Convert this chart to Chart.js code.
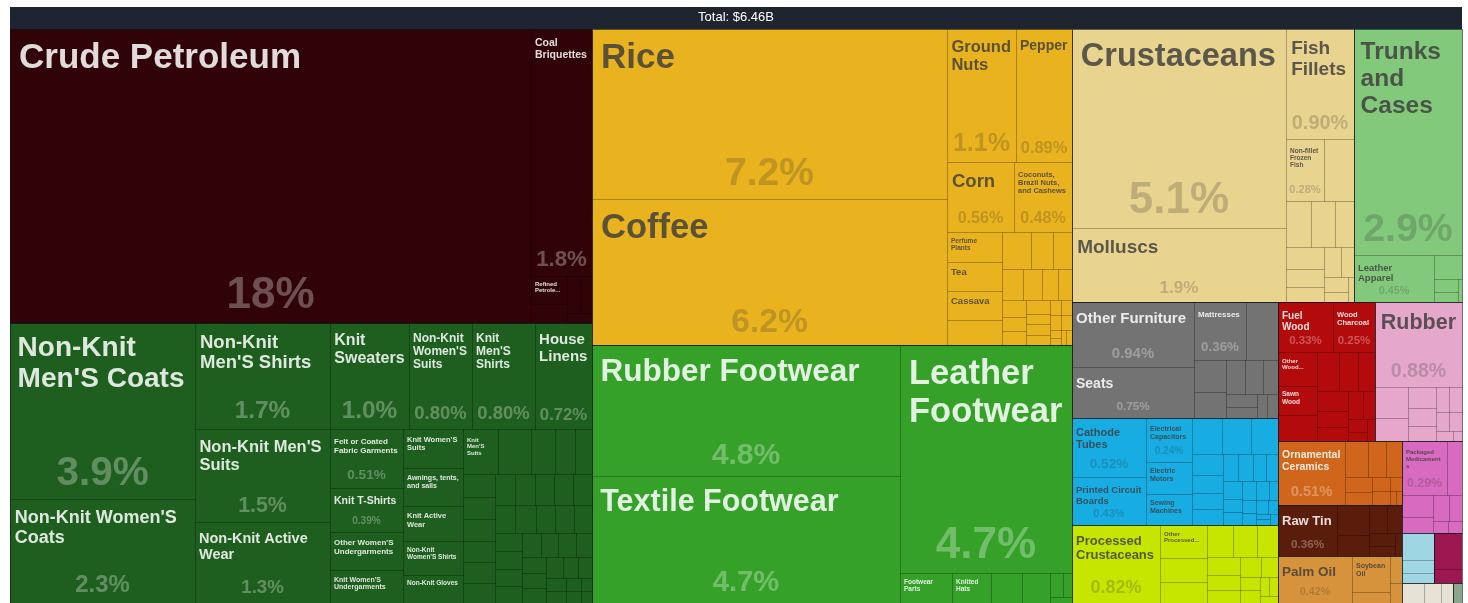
<!DOCTYPE html>
<html>
<head>
<meta charset="utf-8">
<title>Export treemap</title>
<script src="https://cdn.jsdelivr.net/npm/chart.js@4.4.1/dist/chart.umd.min.js"></script>
<style>
  html, body { margin: 0; padding: 0; background: #ffffff; }
  #wrap { width: 1468px; height: 603px; }
</style>
</head>
<body>
<div id="wrap"><canvas id="treemap"></canvas></div>
<script>
// Share of total exports (%) per product, one pair of arrays per HS section
const mineralProducts = ['Crude Petroleum', 'Coal Briquettes', 'Refined Petroleum', 'Petroleum Gas', 'Salt', 'Tin Ore', 'Cement'];
const mineralShares = [18.3, 1.8, 0.12, 0.08, 0.06, 0.05, 0.03];

const textileProducts = ["Non-Knit Men'S Coats", "Non-Knit Women'S Coats", "Non-Knit Men'S Shirts", "Non-Knit Men'S Suits",
  "Non-Knit Active Wear", "Knit Sweaters", "Non-Knit Women'S Suits", "Knit Men'S Shirts", "House Linens",
  "Felt or Coated Fabric Garments", "Knit T-Shirts", "Other Women'S Undergarments", "Knit Women'S Undergarments",
  "Knit Women'S Suits", "Awnings, tents, and sails", "Knit Active Wear", "Non-Knit Women'S Shirts", "Non-Knit Gloves",
  "Knit Men'S Suits", "Non-Knit Babies' Garments", "Knit Women'S Shirts", "Knit Babies' Garments",
  "Non-Knit Women'S Undergarments", "Knit Socks and Hosiery", "Other Knit Garments", "Non-Knit Men'S Undergarments",
  "Other Cloth Articles", "Knit Gloves", "Knit Men'S Undergarments", "Knit Women'S Coats", "Ties", "Used Clothing",
  "Handkerchiefs", "Shawls and Scarves", "Synthetic Filament Yarn", "Cotton Yarn", "Woven Fabrics", "Blankets",
  "Sacks and Bags", "Labels", "Textile Wall Coverings", "Twine and Rope", "Curtains", "Wadding", "Raw Silk",
  "Jute Yarn", "Embroidery", "Lace", "Heavy Pure Woven Cotton", "Knitted Fabric", "Raw Cotton", "Knit Men'S Coats",
  "Tulles and Net Fabric", "Synthetic Staple Fibers", "Light Pure Woven Cotton", "Other Synthetic Fabrics", "Carpets",
  "Cotton Sewing Thread", "Velvet Fabric"];
const textileShares = [3.9, 2.3, 1.7, 1.5, 1.3, 1.0, 0.8, 0.8, 0.72, 0.51, 0.39, 0.33, 0.285, 0.28, 0.27, 0.25, 0.24, 0.2,
  0.19, 0.18, 0.125, 0.11, 0.09, 0.088, 0.086, 0.084, 0.082, 0.08, 0.078, 0.076, 0.074, 0.072, 0.07, 0.07, 0.068,
  0.066, 0.064, 0.062, 0.06, 0.06, 0.058, 0.056, 0.055, 0.054, 0.052, 0.05, 0.048, 0.046, 0.044, 0.042, 0.04, 0.037,
  0.034, 0.031, 0.028, 0.025, 0.022, 0.018, 0.015];

const vegetableProducts = ['Rice', 'Coffee', 'Ground Nuts', 'Pepper', 'Corn', 'Coconuts, Brazil Nuts, and Cashews',
  'Perfume Plants', 'Tea', 'Cassava', 'Vegetable Saps', 'Cinnamon', 'Cloves', 'Soybeans', 'Bananas', 'Tropical Fruits',
  'Onions', 'Dried Legumes', 'Cocoa Beans', 'Other Nuts', 'Ginger', 'Vanilla', 'Sesame Seeds', 'Wheat Flours', 'Citrus',
  'Other Vegetables', 'Malt', 'Sorghum', 'Hops', 'Live Plants', 'Buckwheat', 'Mate', 'Lac'];
const vegetableShares = [7.2, 6.2, 1.1, 0.89, 0.56, 0.48, 0.2, 0.19, 0.19, 0.17, 0.13, 0.093, 0.084, 0.08, 0.07,
  0.06, 0.05, 0.05, 0.04, 0.04, 0.04, 0.03, 0.03, 0.03, 0.02, 0.02, 0.02, 0.02, 0.01, 0.01, 0.01, 0.01];

const footwearProducts = ['Rubber Footwear', 'Textile Footwear', 'Leather Footwear', 'Footwear Parts', 'Knitted Hats',
  'Other Footwear', 'Umbrellas', 'Other Headwear', 'Walking Sticks', 'Artificial Flowers'];
const footwearShares = [4.8, 4.68, 4.66, 0.19, 0.14, 0.115, 0.10, 0.04, 0.025, 0.015];

const animalProducts = ['Crustaceans', 'Molluscs', 'Fish Fillets', 'Non-fillet Frozen Fish', 'Dried Fish', 'Pig Meat',
  'Poultry Meat', 'Live Fish', 'Non-fillet Fresh Fish', 'Bird Feathers', 'Honey', 'Eggs', 'Animal Organs',
  'Bones and Horns', 'Milk', 'Live Pigs'];
const animalShares = [5.1, 1.9, 0.9, 0.28, 0.22, 0.14, 0.13, 0.11, 0.10, 0.08, 0.07, 0.06, 0.05, 0.04, 0.03, 0.02];

const hideProducts = ['Trunks and Cases', 'Leather Apparel', 'Raw Hides', 'Saddlery', 'Other Leather Articles', 'Furskin Apparel'];
const hideShares = [2.9, 0.45, 0.08, 0.04, 0.03, 0.01];

const miscProducts = ['Other Furniture', 'Seats', 'Mattresses', 'Brooms', 'Pens', 'Other Toys', 'Buttons', 'Combs',
  'Wheeled Toys', 'Prefabricated Buildings', 'Sports Equipment', 'Lighting Fixtures', 'Zippers'];
const miscShares = [0.94, 0.75, 0.36, 0.22, 0.12, 0.10, 0.08, 0.07, 0.06, 0.05, 0.04, 0.03, 0.03];

const machineProducts = ['Cathode Tubes', 'Printed Circuit Boards', 'Electrical Capacitors', 'Electric Motors',
  'Sewing Machines', 'Insulated Wire', 'Computers', 'Integrated Circuits', 'Electrical Transformers',
  'Electric Batteries', 'Telephones', 'Semiconductor Devices', 'Broadcasting Equipment', 'Video Displays',
  'Computer Parts', 'Air Pumps', 'Electric Heaters', 'Valves', 'Electrical Ignitions', 'Low-voltage Protection Equipment',
  'Centrifuges', 'Refrigerators', 'Electric Filament', 'Liquid Pumps', 'Ball Bearings', 'Microphones', 'Engine Parts',
  'Office Machine Parts', 'Textile Machinery'];
const machineShares = [0.52, 0.43, 0.24, 0.17, 0.17, 0.13, 0.12, 0.115, 0.08, 0.07, 0.06, 0.06, 0.05, 0.05, 0.04,
  0.04, 0.04, 0.03, 0.03, 0.03, 0.03, 0.02, 0.02, 0.02, 0.02, 0.015, 0.01, 0.01, 0.01];

const foodProducts = ['Processed Crustaceans', 'Other Processed Fruits and Nuts', 'Pasta', 'Processed Fish',
  'Sugar Confectionery', 'Animal Food', 'Baked Goods', 'Coffee and Tea Extracts', 'Sauces and Seasonings',
  'Rolled Tobacco', 'Processed Vegetables', 'Fruit Juice', 'Soups and Broths', 'Vinegar', 'Beer', 'Hard Liquor',
  'Other Edible Preparations'];
const foodShares = [0.82, 0.19, 0.135, 0.12, 0.10, 0.09, 0.08, 0.07, 0.06, 0.05, 0.05, 0.04, 0.03, 0.03, 0.02, 0.02, 0.015];

const woodProducts = ['Fuel Wood', 'Wood Charcoal', 'Other Wood Articles', 'Sawn Wood', 'Plaiting Products',
  'Wood Carpentry', 'Plywood', 'Wood Crates', 'Rough Wood', 'Veneer Sheets', 'Wood Frames', 'Basketwork',
  'Wood Kitchenware', 'Wood Fiberboard', 'Wood Ornaments', 'Cork'];
const woodShares = [0.33, 0.25, 0.16, 0.14, 0.12, 0.10, 0.09, 0.08, 0.07, 0.06, 0.05, 0.05, 0.04, 0.03, 0.02, 0.02];

const plasticProducts = ['Rubber', 'Other Plastic Sheetings', 'Plastic Lids', 'Plastic Housewares', 'Rubber Tires',
  'Plastic Pipes', 'Rubber Belts', 'Raw Plastic Sheeting', 'Rubber Apparel', 'Other Rubber Products',
  'Plastic Floor Coverings', 'Ethylene Polymers'];
const plasticShares = [0.88, 0.12, 0.09, 0.07, 0.06, 0.05, 0.04, 0.04, 0.03, 0.03, 0.02, 0.01];

const stoneProducts = ['Ornamental Ceramics', 'Glass Bottles', 'Glass Bricks', 'Building Stone', 'Ceramic Bricks',
  'Glass Fibers', 'Gypsum', 'Cement Articles', 'Abrasive Powder', 'Mica', 'Quicklime'];
const stoneShares = [0.51, 0.10, 0.08, 0.07, 0.05, 0.04, 0.03, 0.03, 0.02, 0.01, 0.01];

const metalProducts = ['Raw Tin', 'Scrap Copper', 'Iron Structures', 'Aluminium Plating', 'Metal Stoppers',
  'Scrap Iron', 'Screws and Bolts', 'Iron Wire'];
const metalShares = [0.36, 0.12, 0.08, 0.06, 0.05, 0.04, 0.03, 0.02];

const fatProducts = ['Palm Oil', 'Soybean Oil', 'Coconut Oil', 'Animal Fats', 'Other Vegetable Oils'];
const fatShares = [0.42, 0.16, 0.05, 0.04, 0.03];

const chemicalProducts = ['Packaged Medicaments', 'Animal or Vegetable Fertilizers', 'Soap', 'Perfumes',
  'Insecticides', 'Glues', 'Cleaning Products', 'Paints'];
const chemicalShares = [0.29, 0.10, 0.08, 0.06, 0.05, 0.04, 0.02, 0.02];

const instrumentProducts = ['Orthopedic Appliances', 'Watches', 'Medical Instruments'];
const instrumentShares = [0.10, 0.05, 0.04];
const preciousProducts = ['Jewellery', 'Pearls'];
const preciousShares = [0.12, 0.05];
const paperProducts = ['Printed Books', 'Paper Containers', 'Toilet Paper'];
const paperShares = [0.05, 0.04, 0.03];
const transportProducts = ['Bicycles'];
const transportShares = [0.02];

const groupNames = ['Mineral Products', 'Textiles', 'Vegetable Products', 'Footwear and Headwear', 'Animal Products',
  'Animal Hides', 'Miscellaneous', 'Machines', 'Foodstuffs', 'Wood Products', 'Plastics and Rubbers',
  'Stone and Glass', 'Metals', 'Animal and Vegetable Bi-Products', 'Chemical Products', 'Instruments',
  'Precious Metals', 'Paper Goods', 'Transportation'];
const groupProducts = [mineralProducts, textileProducts, vegetableProducts, footwearProducts, animalProducts,
  hideProducts, miscProducts, machineProducts, foodProducts, woodProducts, plasticProducts, stoneProducts,
  metalProducts, fatProducts, chemicalProducts, instrumentProducts, preciousProducts, paperProducts, transportProducts];
const groupShares = [mineralShares, textileShares, vegetableShares, footwearShares, animalShares, hideShares,
  miscShares, machineShares, foodShares, woodShares, plasticShares, stoneShares, metalShares, fatShares,
  chemicalShares, instrumentShares, preciousShares, paperShares, transportShares];

const groupColors = ['#300308', '#1e5e1e', '#e9b21f', '#35a129', '#e8d38f', '#83c97b', '#737373', '#17ade2',
  '#c6e600', '#b30b0b', '#e5a7ca', '#d0661b', '#5a1d0b', '#d7933c', '#d86bbf', '#9ed6e4', '#9c1750', '#e6e2d6', '#8ba68b'];

const titleText = 'Total: $6.46B';
const FONT = "'Liberation Sans', Arial, Helvetica, sans-serif";
const PHI = (1 + Math.sqrt(5)) / 2;

function sumOf(arr) {
    return arr.reduce((a, b) => a + b, 0);
}

function luma(hex) {
    const n = parseInt(hex.slice(1), 16);
    return 0.299 * (n >> 16) + 0.587 * ((n >> 8) & 255) + 0.114 * (n & 255);
}

function fontStr(size) {
    return 'bold ' + size + 'px ' + FONT;
}

// Build the two-level hierarchy, sorted the way d3 sorts it
function buildTree() {
    const groups = groupNames.map((name, gi) => {
        const children = groupProducts[gi].map((p, i) => ({ name: p, value: groupShares[gi][i] }));
        children.sort((a, b) => b.value - a.value);
        return { name: name, color: groupColors[gi], value: sumOf(groupShares[gi]), children: children };
    });
    groups.sort((a, b) => b.value - a.value);
    return groups;
}

// Squarified layout (same rules as d3.treemapSquarify with the golden ratio)
function squarify(nodes, total, x0, y0, x1, y1) {
    let i0 = 0, i1 = 0, value = total;
    const n = nodes.length;
    while (i0 < n) {
        const dx = x1 - x0, dy = y1 - y0;
        let sumValue;
        do sumValue = nodes[i1++].value; while (!sumValue && i1 < n);
        let minValue = sumValue, maxValue = sumValue;
        const alpha = Math.max(dy / dx, dx / dy) / (value * PHI);
        let beta = sumValue * sumValue * alpha;
        let minRatio = Math.max(maxValue / beta, beta / minValue);
        for (; i1 < n; ++i1) {
            const nodeValue = nodes[i1].value;
            sumValue += nodeValue;
            if (nodeValue < minValue) minValue = nodeValue;
            if (nodeValue > maxValue) maxValue = nodeValue;
            beta = sumValue * sumValue * alpha;
            const newRatio = Math.max(maxValue / beta, beta / minValue);
            if (newRatio > minRatio) { sumValue -= nodeValue; break; }
            minRatio = newRatio;
        }
        const row = nodes.slice(i0, i1);
        if (dx < dy) {
            const yb = value ? y0 + dy * sumValue / value : y1;
            let x = x0;
            row.forEach(nd => {
                const w = (x1 - x0) * nd.value / sumValue;
                nd.x0 = x; nd.x1 = x + w; nd.y0 = y0; nd.y1 = yb;
                x += w;
            });
            y0 = yb;
        } else {
            const xb = value ? x0 + dx * sumValue / value : x1;
            let y = y0;
            row.forEach(nd => {
                const h = (y1 - y0) * nd.value / sumValue;
                nd.x0 = x0; nd.x1 = xb; nd.y0 = y; nd.y1 = y + h;
                y += h;
            });
            x0 = xb;
        }
        value -= sumValue;
        i0 = i1;
    }
}

function wrapWords(ctx, words, maxW) {
    const lines = [];
    let line = '';
    for (const w of words) {
        if (ctx.measureText(w).width > maxW) return null;
        const test = line ? line + ' ' + w : w;
        if (ctx.measureText(test).width <= maxW) line = test;
        else { lines.push(line); line = w; }
    }
    if (line) lines.push(line);
    return lines;
}

function forceWrap(ctx, words, maxW) {
    const lines = [];
    let line = '';
    words.forEach(w => {
        while (ctx.measureText(w).width > maxW && w.length > 1) {
            let cut = w.length - 1;
            while (cut > 1 && ctx.measureText(w.slice(0, cut)).width > maxW) cut--;
            if (line) { lines.push(line); line = ''; }
            lines.push(w.slice(0, cut));
            w = w.slice(cut);
        }
        const test = line ? line + ' ' + w : w;
        if (ctx.measureText(test).width <= maxW) line = test;
        else { lines.push(line); line = w; }
    });
    if (line) lines.push(line);
    return lines;
}

function sidePad(size) {
    return Math.max(4, Math.min(9, size * 0.27));
}

function fitName(ctx, name, w, h) {
    const words = name.split(' ');
    const maxSize = Math.min(35, h * 0.215 + 3.5);
    const budget = h * 0.34 + 5;
    for (let size = Math.floor(maxSize * 2) / 2; size >= 6; size -= 0.5) {
        ctx.font = fontStr(size);
        const pad = sidePad(size);
        const lines = wrapWords(ctx, words, w - 2 * pad);
        if (lines && lines.length * size * 1.1 <= budget) return { size: size, lines: lines, pad: pad };
    }
    const size = 6;
    ctx.font = fontStr(size);
    const pad = sidePad(size);
    const maxW = w - 2 * pad;
    const maxLines = Math.floor(budget / (size * 1.1));
    if (maxLines < 1) return null;
    const lines = forceWrap(ctx, words, maxW);
    if (lines.length > maxLines) {
        lines.length = maxLines;
        let last = lines[maxLines - 1];
        while (last.length && ctx.measureText(last + '...').width > maxW) last = last.slice(0, -1);
        lines[maxLines - 1] = last.trimEnd() + '...';
    }
    return { size: size, lines: lines, pad: pad };
}

function drawLabels(ctx, r, name, pct, light) {
    ctx.save();
    ctx.beginPath();
    ctx.rect(r.l, r.t, r.w, r.h);
    ctx.clip();
    if (r.w >= 34 && r.h >= 28) {
        const lab = fitName(ctx, name, r.w, r.h);
        if (lab) {
            ctx.font = fontStr(lab.size);
            ctx.textAlign = 'left';
            ctx.textBaseline = 'top';
            ctx.fillStyle = light ? 'rgba(255,255,255,0.86)' : 'rgba(60,60,60,0.82)';
            const top = r.t + Math.min(8, r.h * 0.16) + lab.size * 0.12;
            lab.lines.forEach((line, i) => ctx.fillText(line, r.l + lab.pad, top + i * lab.size * 1.1));
        }
    }
    if (r.w >= 38 && r.h >= 44) {
        const txt = pct.toPrecision(2) + '%';
        ctx.font = fontStr(100);
        const em = ctx.measureText(txt).width / 100;
        const size = Math.min(44, r.h * 0.23, r.w * 0.83 / em);
        if (size >= 6) {
            ctx.font = fontStr(size);
            ctx.textAlign = 'center';
            ctx.textBaseline = 'alphabetic';
            ctx.fillStyle = light ? 'rgba(255,255,255,0.3)' : 'rgba(40,40,40,0.22)';
            ctx.fillText(txt, r.l + r.w / 2, r.t + r.h - (6 + 0.2 * size));
        }
    }
    ctx.restore();
}

const treemapPlugin = {
    id: 'treemapCells',
    beforeDraw(chart) {
        // dark band behind the title
        const { ctx, chartArea, titleBlock } = chart;
        if (!titleBlock) return;
        ctx.save();
        ctx.fillStyle = '#1f2530';
        ctx.fillRect(chartArea.left, titleBlock.top, chartArea.right - chartArea.left, titleBlock.bottom - titleBlock.top);
        ctx.restore();
    },
    afterDatasetsDraw(chart) {
        const ctx = chart.ctx;
        const xs = chart.scales.x, ys = chart.scales.y;
        const groups = buildTree();
        const total = sumOf(groups.map(g => g.value));
        squarify(groups, total, xs.min, ys.min, xs.max, ys.max);
        groups.forEach(g => squarify(g.children, g.value, g.x0, g.y0, g.x1, g.y1));

        const toPx = nd => {
            const l = Math.round(xs.getPixelForValue(nd.x0)), rr = Math.round(xs.getPixelForValue(nd.x1));
            const t = Math.round(ys.getPixelForValue(nd.y0)), b = Math.round(ys.getPixelForValue(nd.y1));
            return { l: l, t: t, w: rr - l, h: b - t };
        };

        ctx.save();
        groups.forEach(g => {
            ctx.fillStyle = g.color;
            g.children.forEach(c => {
                const r = toPx(c);
                if (r.w > 0 && r.h > 0) ctx.fillRect(r.l, r.t, r.w, r.h);
            });
            ctx.beginPath();
            g.children.forEach(c => {
                const r = toPx(c);
                if (r.w > 0 && r.h > 0) ctx.rect(r.l + 0.5, r.t + 0.5, r.w, r.h);
            });
            ctx.strokeStyle = 'rgba(0,0,0,0.14)';
            ctx.lineWidth = 1;
            ctx.stroke();
        });
        ctx.beginPath();
        groups.forEach(g => {
            const r = toPx(g);
            ctx.rect(r.l + 0.5, r.t + 0.5, r.w, r.h);
        });
        ctx.strokeStyle = 'rgba(15,20,28,0.55)';
        ctx.stroke();
        ctx.restore();

        groups.forEach(g => {
            const light = luma(g.color) < 130;
            g.children.forEach(c => {
                const r = toPx(c);
                if (r.w > 0 && r.h > 0) drawLabels(ctx, r, c.name, c.value / total * 100, light);
            });
        });
    }
};

new Chart(document.getElementById('treemap'), {
    type: 'scatter',
    data: { datasets: [{ data: [], pointRadius: 0 }] },
    options: {
        responsive: true,
        maintainAspectRatio: false,
        animation: false,
        events: [],
        layout: { padding: { left: 10, right: 6, top: 7, bottom: 0 } },
        scales: {
            x: { type: 'linear', display: false, min: 0, max: 1452 },
            y: { type: 'linear', display: false, min: 0, max: 574, reverse: true }
        },
        plugins: {
            legend: { display: false },
            tooltip: { enabled: false },
            title: {
                display: true,
                text: titleText,
                color: '#ffffff',
                font: { family: FONT, size: 13, weight: 'normal', lineHeight: 1 },
                padding: { top: 4, bottom: 5 }
            }
        }
    },
    plugins: [treemapPlugin]
});
</script>
</body>
</html>
